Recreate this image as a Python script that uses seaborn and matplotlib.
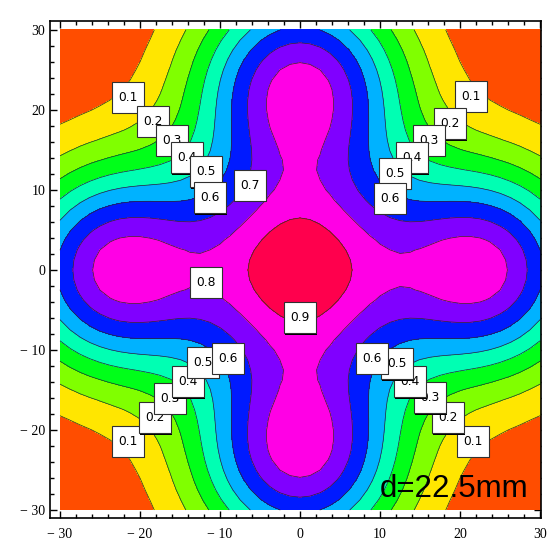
import colorsys

import numpy as np
import matplotlib
matplotlib.use("Agg")
import matplotlib.pyplot as plt
from matplotlib.patches import Rectangle
from matplotlib.transforms import ScaledTranslation
from matplotlib.ticker import MultipleLocator, FuncFormatter
import seaborn as sns

# Emitter layout (mm): one central element and four outer ones on the axes
source_x = [0.0, 22.75, -22.75, 0.0, 0.0]
source_y = [0.0, 0.0, 0.0, 22.75, -22.75]
source_strength = [0.99, 1.0, 1.0, 1.0, 1.0]
source_width = [9.1, 9.4, 9.4, 9.4, 9.4]  # Gaussian spread of each element (mm)

# Normalised intensity bands
levels = [0.0, 0.1, 0.2, 0.3, 0.4, 0.5, 0.6, 0.7, 0.8, 0.9, 1.0]

# Contour labels: value and anchor (mm)
label_value = [0.1, 0.2, 0.3, 0.4, 0.5, 0.6, 0.7,
               0.1, 0.2, 0.3, 0.4, 0.5, 0.6,
               0.1, 0.2, 0.3, 0.4, 0.5, 0.6,
               0.1, 0.2, 0.3, 0.4, 0.5, 0.6,
               0.8, 0.9]
label_x = [-21.5, -18.4, -16.0, -14.1, -11.75, -11.25, -6.25,
           21.4, 18.75, 16.1, 14.0, 11.9, 11.25,
           -21.5, -18.1, -16.25, -14.0, -12.1, -9.0,
           21.6, 18.5, 16.25, 13.75, 12.1, 9.0,
           -11.75, 0.0]
label_y = [21.6, 18.6, 16.2, 14.0, 12.25, 9.0, 10.6,
           21.7, 18.25, 16.2, 14.0, 12.1, 8.9,
           -21.4, -18.5, -16.1, -14.0, -11.6, -11.1,
           -21.4, -18.5, -16.0, -14.0, -11.75, -11.1,
           -1.6, -6.0]

caption = "d=22.5mm"

# ---------------------------------------------------------------- field
grid = np.linspace(-30, 30, 49)
X, Y = np.meshgrid(grid, grid)
Z = np.zeros_like(X)
for sx, sy, a, w in zip(source_x, source_y, source_strength, source_width):
    Z += a * np.exp(-((X - sx) ** 2 + (Y - sy) ** 2) / (2 * w ** 2))
Z /= Z.max()

# ---------------------------------------------------------------- style
sns.set_style("ticks")
plt.rcParams["font.family"] = ["DejaVu Sans"]

mids = [(lo + hi) / 2 for lo, hi in zip(levels[:-1], levels[1:])]
band_colors = sns.color_palette([colorsys.hsv_to_rgb(m, 1.0, 1.0) for m in mids])

fig = plt.figure(figsize=(5.57, 5.40), dpi=100)
ax = fig.add_axes([50 / 557, 1 - 518 / 540, 491 / 557, 497 / 540])
ax.set_facecolor("white")

ax.contourf(X, Y, Z, levels=levels, colors=band_colors, zorder=1)
ax.contour(X, Y, Z, levels=levels[1:-1], colors="#2a2a2a",
           linewidths=0.5, zorder=2)

# framed value tags (fixed size in inches, anchored at data points)
box_w, box_h = 0.32, 0.31
for v, lx, ly in zip(label_value, label_x, label_y):
    z = 5 + v * 10
    anchor = fig.dpi_scale_trans + ScaledTranslation(lx, ly, ax.transData)
    ax.add_patch(Rectangle((-box_w / 2 + 0.012, -box_h / 2 - 0.012), box_w, box_h,
                           transform=anchor, fc="black", ec="none",
                           zorder=z, clip_on=False))
    ax.add_patch(Rectangle((-box_w / 2, -box_h / 2), box_w, box_h,
                           transform=anchor, fc="white", ec="#303030",
                           lw=0.8, zorder=z + 0.1, clip_on=False))
    ax.text(lx, ly, f"{v:.1f}", ha="center", va="center",
            fontsize=8.8, family="DejaVu Sans", color="black",
            zorder=z + 0.2)

ax.text(10.0, -28.4, caption, ha="left", va="baseline",
        fontsize=22.5, family="Liberation Sans", color="black", zorder=20)

ax.set_xlim(-31.25, 30.12)
ax.set_ylim(-31.0, 31.12)

ax.xaxis.set_major_locator(MultipleLocator(10))
ax.yaxis.set_major_locator(MultipleLocator(10))
ax.xaxis.set_minor_locator(MultipleLocator(2))
ax.yaxis.set_minor_locator(MultipleLocator(2))


def tick_text(v, _pos):
    n = int(round(v))
    return f"\u2212 {abs(n)}" if n < 0 else f"{n}"


ax.xaxis.set_major_formatter(FuncFormatter(tick_text))
ax.yaxis.set_major_formatter(FuncFormatter(tick_text))

ax.tick_params(which="both", direction="in", top=True, right=True,
               labeltop=False, labelright=False, color="black", width=1.0)
ax.tick_params(which="major", length=5)
ax.tick_params(which="minor", length=3)
ax.tick_params(axis="x", which="major", pad=7)
ax.tick_params(axis="y", which="major", pad=3.5)
for lab in ax.get_xticklabels() + ax.get_yticklabels():
    lab.set_family("Liberation Serif")
    lab.set_fontsize(10)
    lab.set_color("black")

for sp in ax.spines.values():
    sp.set_visible(True)
    sp.set_color("black")
    sp.set_linewidth(1.2)

fig.savefig("out.png", dpi=100, facecolor="white")
